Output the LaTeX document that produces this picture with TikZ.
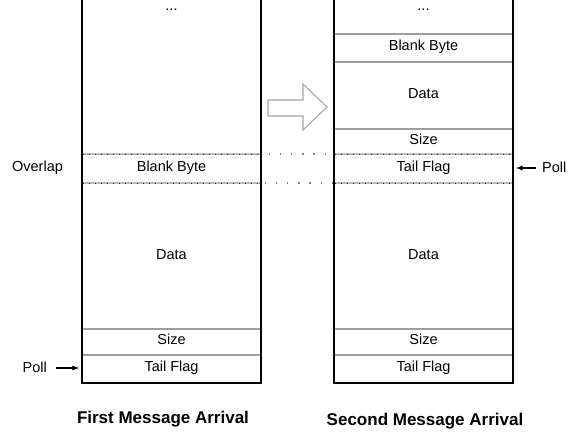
\documentclass[tikz,border=0pt]{standalone}
\usepackage{fontspec}
\setmainfont{Liberation Sans}
\begin{document}
\begin{tikzpicture}[x=1pt,y=-1pt,
  frame/.style={line width=1.6pt,black},
  sep/.style={line width=1.4pt,gray!75},
  sepdash/.style={line width=2.2pt,gray!55},
  septick/.style={gray!35!black,line width=0.7pt,dash pattern=on 1pt off 5pt},
  lbl/.style={font=\fontsize{14.5}{16}\selectfont,inner sep=0pt},
  caption/.style={font=\fontsize{17}{19}\selectfont\bfseries,inner sep=0pt},
  dotline/.style={gray,line width=1.4pt,dash pattern=on 1.4pt off 9.8pt},
  pollarrow/.style={line width=1.3pt,-latex}]
\useasboundingbox (0,0) rectangle (568,435);

% memory columns
\draw[frame] (82,0) -- (82,383) -- (261,383) -- (261,0);
\draw[frame] (334,0) -- (334,383) -- (513,383) -- (513,0);

% overlapping boundaries (shared across both columns)
\foreach \yy in {154,183}{
  \draw[sepdash] (83,\yy) -- (260,\yy);
  \draw[septick] (83,\yy) -- (260,\yy);
  \draw[sepdash] (335,\yy) -- (512,\yy);
  \draw[septick] (335,\yy) -- (512,\yy);
}
\draw[dotline] (268.5,154) -- (327,154);
\draw[dotline] (264.5,183) -- (333,183);

% first column separators
\draw[sep] (83,329) -- (260,329);
\draw[sep] (83,355) -- (260,355);

% second column separators
\foreach \yy in {34,62,129,329,355}
  \draw[sep] (335,\yy) -- (512,\yy);

% first column labels
\node[lbl,anchor=base] (a0) at (171.5,11) {...};
\node[lbl] (a1) at (171.5,168) {Blank Byte};
\node[lbl] (a2) at (171.5,255) {Data};
\node[lbl] (a3) at (171.5,339) {Size};
\node[lbl] (a4) at (171.5,368) {Tail Flag};

% second column labels
\node[lbl,anchor=base] (b0) at (423.5,11) {...};
\node[lbl] (b1) at (423.5,47) {Blank Byte};
\node[lbl] (b2) at (423.5,94) {Data};
\node[lbl] (b3) at (423.5,139) {Size};
\node[lbl] (b4) at (423.5,168) {Tail Flag};
\node[lbl] (b5) at (423.5,255) {Data};
\node[lbl] (b6) at (423.5,339) {Size};
\node[lbl] (b7) at (423.5,368) {Tail Flag};

% side annotations
\node[lbl] (ov) at (37.5,168) {Overlap};
\node[lbl,anchor=east] (p1) at (47,367) {Poll};
\coordinate (p1e) at (79,368);
\draw[pollarrow] (p1.east) ++(9,1) -- (p1e);
\node[lbl,anchor=west] (p2) at (542,167) {Poll};
\coordinate (p2e) at (516,168);
\draw[pollarrow] (p2.west) ++(-6,1) -- (p2e);

% block arrow between the columns
\draw[gray!70,line width=1.1pt,fill=white]
  (268,100) -- (303,100) -- (303,84) -- (327,107) -- (303,130) -- (303,116) -- (268,116) -- cycle;

% captions
\node[caption] (c1) at (163,419) {First Message Arrival};
\node[caption] (c2) at (425,421) {Second Message Arrival};
\end{tikzpicture}
\end{document}
